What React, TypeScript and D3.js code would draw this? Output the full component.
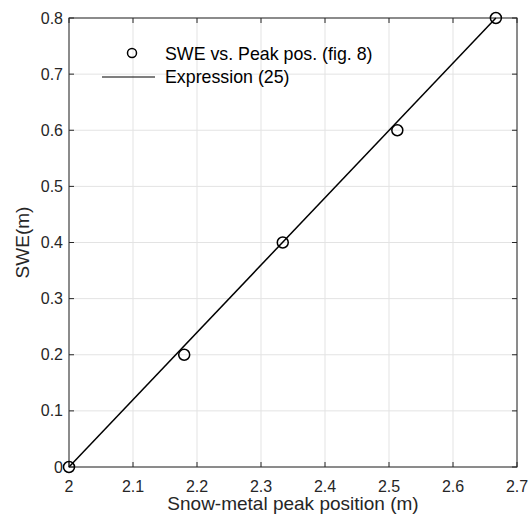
import React from "react";
import * as d3 from "d3";

const peakPos = [2.0, 2.18, 2.334, 2.513, 2.667];
const sweVals = [0.0, 0.2, 0.4, 0.6, 0.8];
const exprX = [2.0, 2.667];
const exprY = [0.0, 0.8];
const xTicks = [2, 2.1, 2.2, 2.3, 2.4, 2.5, 2.6, 2.7];
const yTicks = [0, 0.1, 0.2, 0.3, 0.4, 0.5, 0.6, 0.7, 0.8];
const legendLabels = ["SWE vs. Peak pos. (fig. 8)", "Expression (25)"];

export default function App() {
  const W = 530, H = 516;
  const L = 69, R = 517, T = 18, B = 467;
  const x = d3.scaleLinear().domain([2, 2.7]).range([L, R]);
  const y = d3.scaleLinear().domain([0, 0.8]).range([B, T]);
  const line = d3.line<number>().x((d) => x(exprX[d])).y((d) => y(exprY[d]));
  const axisColor = "#262626";
  const font = "Liberation Sans, Arial, Helvetica, sans-serif";
  const fmt = (v: number) => (v === 0 ? "0" : String(+v.toFixed(1)));
  return (
    <svg width={W} height={H} style={{ position: "absolute", left: 0, top: 0 }} fontFamily={font}>
      <rect x={0} y={0} width={W} height={H} fill="#fff" />
      {xTicks.map((t) => (
        <line key={"gx" + t} x1={x(t)} x2={x(t)} y1={T} y2={B} stroke="#e3e3e3" strokeWidth={1} />
      ))}
      {yTicks.map((t) => (
        <line key={"gy" + t} x1={L} x2={R} y1={y(t)} y2={y(t)} stroke="#e3e3e3" strokeWidth={1} />
      ))}
      {xTicks.map((t) => (
        <g key={"tx" + t}>
          <line x1={x(t)} x2={x(t)} y1={B} y2={B - 5} stroke={axisColor} />
          <line x1={x(t)} x2={x(t)} y1={T} y2={T + 5} stroke={axisColor} />
          <text x={x(t)} y={492} textAnchor="middle" fontSize={16} fill={axisColor}>
            {fmt(t)}
          </text>
        </g>
      ))}
      {yTicks.map((t) => (
        <g key={"ty" + t}>
          <line x1={L} x2={L + 5} y1={y(t)} y2={y(t)} stroke={axisColor} />
          <line x1={R} x2={R - 5} y1={y(t)} y2={y(t)} stroke={axisColor} />
          <text x={L - 6} y={y(t) + 5.5} textAnchor="end" fontSize={16} fill={axisColor}>
            {fmt(t)}
          </text>
        </g>
      ))}
      <rect x={L} y={T} width={R - L} height={B - T} fill="none" stroke={axisColor} strokeWidth={1} />
      <path d={line([0, 1]) || ""} fill="none" stroke="#000" strokeWidth={1.5} />
      {peakPos.map((p, i) => (
        <circle key={"pt" + i} cx={x(p)} cy={y(sweVals[i])} r={5.5} fill="none" stroke="#000" strokeWidth={1.5} />
      ))}
      <circle cx={132} cy={53} r={4.5} fill="none" stroke="#000" strokeWidth={1.5} />
      <text x={165} y={60} fontSize={17.8} fill="#000">{legendLabels[0]}</text>
      <line x1={102} x2={155} y1={77} y2={77} stroke="#000" strokeWidth={1.2} />
      <text x={165} y={83} fontSize={17.8} fill="#000">{legendLabels[1]}</text>
      <text x={(L + R) / 2} y={510} textAnchor="middle" fontSize={19} fill={axisColor}>
        Snow-metal peak position (m)
      </text>
      <text transform={`translate(29, ${(T + B) / 2}) rotate(-90)`} textAnchor="middle" fontSize={19} fill={axisColor}>
        SWE(m)
      </text>
    </svg>
  );
}
